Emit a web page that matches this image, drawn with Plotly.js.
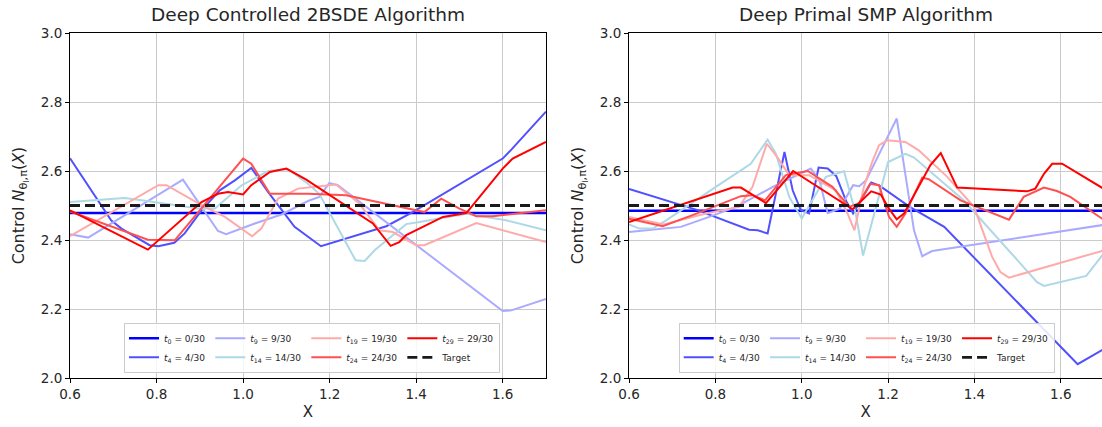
<!DOCTYPE html>
<html>
<head>
<meta charset="utf-8">
<script src="https://cdn.plot.ly/plotly-3.0.1.min.js"></script>
<style>
  html, body { margin: 0; padding: 0; background: #fff; }
  #chart { width: 1102px; height: 427px; }
</style>
</head>
<body>
<div id="chart"></div>
<script>
// ---- Deep Controlled 2BSDE: control value over X at several time steps ----
const bsde_t0_x  = [0.6, 1.7];
const bsde_t0_y  = [2.478, 2.478];
const bsde_t4_x  = [0.6, 0.695, 0.719, 0.784, 0.804, 0.841, 0.865, 0.904, 0.946, 0.981, 1.019, 1.058, 1.119, 1.150, 1.180, 1.331, 1.392, 1.600, 1.620, 1.7];
const bsde_t4_y  = [2.637, 2.457, 2.433, 2.385, 2.382, 2.392, 2.419, 2.486, 2.544, 2.573, 2.609, 2.539, 2.438, 2.409, 2.382, 2.440, 2.481, 2.636, 2.662, 2.772];
const bsde_t9_x  = [0.6, 0.642, 0.861, 0.942, 0.961, 1.027, 1.089, 1.150, 1.176, 1.199, 1.219, 1.400, 1.600, 1.620, 1.7];
const bsde_t9_y  = [2.417, 2.407, 2.575, 2.426, 2.417, 2.448, 2.474, 2.513, 2.525, 2.565, 2.559, 2.385, 2.194, 2.196, 2.229];
const bsde_t14_x = [0.6, 0.672, 0.726, 0.757, 0.850, 0.896, 0.935, 0.996, 1.058, 1.104, 1.150, 1.176, 1.260, 1.281, 1.304, 1.377, 1.408, 1.516, 1.608, 1.7];
const bsde_t14_y = [2.510, 2.518, 2.522, 2.517, 2.501, 2.491, 2.491, 2.558, 2.600, 2.605, 2.563, 2.534, 2.341, 2.339, 2.370, 2.446, 2.452, 2.476, 2.457, 2.428];
const bsde_t19_x = [0.6, 0.804, 0.823, 0.904, 0.958, 1.021, 1.042, 1.081, 1.127, 1.150, 1.215, 1.269, 1.315, 1.346, 1.400, 1.419, 1.539, 1.7];
const bsde_t19_y = [2.411, 2.559, 2.559, 2.501, 2.467, 2.411, 2.433, 2.520, 2.549, 2.552, 2.561, 2.505, 2.428, 2.423, 2.385, 2.385, 2.449, 2.394];
const bsde_t24_x = [0.6, 0.780, 0.842, 1.000, 1.019, 1.062, 1.150, 1.238, 1.346, 1.419, 1.458, 1.500, 1.539, 1.577, 1.7];
const bsde_t24_y = [2.483, 2.401, 2.399, 2.636, 2.621, 2.534, 2.534, 2.530, 2.501, 2.481, 2.520, 2.491, 2.469, 2.469, 2.486];
const bsde_t29_x = [0.6, 0.780, 0.904, 0.942, 0.965, 1.000, 1.019, 1.062, 1.100, 1.146, 1.300, 1.341, 1.361, 1.377, 1.462, 1.516, 1.600, 1.623, 1.7];
const bsde_t29_y = [2.486, 2.372, 2.510, 2.534, 2.539, 2.532, 2.559, 2.597, 2.607, 2.575, 2.448, 2.383, 2.394, 2.414, 2.467, 2.478, 2.607, 2.636, 2.684];

// ---- Deep Primal SMP ----
const smp_t0_x  = [0.6, 1.7];
const smp_t0_y  = [2.485, 2.485];
const smp_t4_x  = [0.6, 0.755, 0.878, 0.898, 0.921, 0.960, 0.979, 0.998, 1.017, 1.039, 1.060, 1.080, 1.103, 1.119, 1.161, 1.181, 1.250, 1.330, 1.639, 1.7];
const smp_t4_y  = [2.548, 2.488, 2.430, 2.428, 2.419, 2.655, 2.544, 2.486, 2.477, 2.610, 2.607, 2.585, 2.512, 2.477, 2.567, 2.557, 2.496, 2.438, 2.040, 2.084];
const smp_t9_x  = [0.6, 0.720, 0.786, 0.848, 0.933, 0.994, 1.021, 1.041, 1.060, 1.088, 1.119, 1.133, 1.149, 1.220, 1.260, 1.279, 1.302, 1.7];
const smp_t9_y  = [2.423, 2.438, 2.467, 2.496, 2.554, 2.592, 2.607, 2.573, 2.478, 2.491, 2.559, 2.556, 2.573, 2.752, 2.428, 2.353, 2.368, 2.444];
const smp_t14_x = [0.6, 0.624, 0.655, 0.686, 0.801, 0.882, 0.921, 0.940, 0.971, 1.000, 1.056, 1.098, 1.125, 1.142, 1.200, 1.240, 1.260, 1.375, 1.545, 1.561, 1.659, 1.7];
const smp_t14_y = [2.445, 2.433, 2.433, 2.457, 2.554, 2.621, 2.691, 2.650, 2.525, 2.462, 2.583, 2.599, 2.477, 2.355, 2.626, 2.650, 2.639, 2.515, 2.278, 2.267, 2.296, 2.362];
const smp_t19_x = [0.6, 0.680, 0.778, 0.855, 0.886, 0.919, 0.940, 0.971, 1.017, 1.079, 1.106, 1.122, 1.144, 1.163, 1.179, 1.198, 1.240, 1.271, 1.337, 1.399, 1.441, 1.460, 1.480, 1.7];
const smp_t19_y = [2.467, 2.445, 2.477, 2.496, 2.554, 2.679, 2.646, 2.588, 2.588, 2.544, 2.477, 2.428, 2.554, 2.626, 2.675, 2.689, 2.684, 2.660, 2.583, 2.496, 2.351, 2.307, 2.291, 2.370];
const smp_t24_x = [0.6, 0.678, 0.747, 0.859, 0.886, 0.915, 0.963, 1.014, 1.071, 1.110, 1.133, 1.158, 1.179, 1.202, 1.220, 1.240, 1.279, 1.294, 1.368, 1.480, 1.514, 1.561, 1.591, 1.622, 1.7];
const smp_t24_y = [2.462, 2.440, 2.472, 2.527, 2.530, 2.515, 2.588, 2.600, 2.554, 2.496, 2.507, 2.563, 2.559, 2.467, 2.438, 2.477, 2.581, 2.576, 2.515, 2.459, 2.525, 2.552, 2.542, 2.525, 2.458];
const smp_t29_x = [0.6, 0.840, 0.859, 0.917, 0.980, 1.118, 1.161, 1.183, 1.202, 1.220, 1.237, 1.298, 1.322, 1.360, 1.522, 1.541, 1.561, 1.580, 1.603, 1.7];
const smp_t29_y = [2.452, 2.552, 2.552, 2.507, 2.600, 2.489, 2.541, 2.532, 2.491, 2.460, 2.477, 2.617, 2.652, 2.552, 2.541, 2.549, 2.592, 2.621, 2.621, 2.548];

const targetX = [0.6, 1.7];
const targetY = [2.5, 2.5];

const stepLabels = ['<i>t</i><sub>0</sub> = 0/30', '<i>t</i><sub>4</sub> = 4/30', '<i>t</i><sub>9</sub> = 9/30',
                    '<i>t</i><sub>14</sub> = 14/30', '<i>t</i><sub>19</sub> = 19/30', '<i>t</i><sub>24</sub> = 24/30',
                    '<i>t</i><sub>29</sub> = 29/30'];
const stepColors = ['#0000ff', '#5050ff', '#aaaaff', '#add8e6', '#ffaaaa', '#ff5050', '#ff0000'];
const stepWidths = [2.5, 2, 2, 2, 2, 2, 2];
const legendCols = [1, 1, 2, 2, 3, 3, 4];

const bsdeSeries = [[bsde_t0_x, bsde_t0_y], [bsde_t4_x, bsde_t4_y], [bsde_t9_x, bsde_t9_y], [bsde_t14_x, bsde_t14_y],
                    [bsde_t19_x, bsde_t19_y], [bsde_t24_x, bsde_t24_y], [bsde_t29_x, bsde_t29_y]];
const smpSeries  = [[smp_t0_x, smp_t0_y], [smp_t4_x, smp_t4_y], [smp_t9_x, smp_t9_y], [smp_t14_x, smp_t14_y],
                    [smp_t19_x, smp_t19_y], [smp_t24_x, smp_t24_y], [smp_t29_x, smp_t29_y]];

function panelTraces(series, xa, ya, legendId, prefix) {
  const out = series.map((s, i) => ({
    x: s[0], y: s[1], type: 'scatter', mode: 'lines',
    xaxis: xa, yaxis: ya, legend: legendId,
    legendgroup: prefix + legendCols[i],
    name: stepLabels[i],
    line: { color: stepColors[i], width: stepWidths[i] },
    hoverinfo: 'skip'
  }));
  out.push({
    x: targetX, y: targetY, type: 'scatter', mode: 'lines',
    xaxis: xa, yaxis: ya, legend: legendId, legendgroup: prefix + 4,
    name: 'Target',
    line: { color: '#1a1a1a', width: 2.8, dash: '10px,5px' },
    hoverinfo: 'skip'
  });
  return out;
}

const data = panelTraces(bsdeSeries, 'x', 'y', 'legend', 'a')
  .concat(panelTraces(smpSeries, 'x2', 'y2', 'legend2', 'b'));

const textColor = '#262626';
const tickFont = { family: 'DejaVu Sans', size: 13.5, color: textColor };
const gridColor = '#cbcbcb';
const yTitle = 'Control <i>N</i><sub>θ<sub>l</sub>,π</sub>(<i>X</i>)';

function xAxis(domain, range) {
  return {
    domain: domain, range: range, tickvals: [0.6, 0.8, 1.0, 1.2, 1.4, 1.6], tickformat: '.1f',
    showgrid: true, gridcolor: gridColor, gridwidth: 1, zeroline: false,
    showline: true, linecolor: '#000', linewidth: 1, mirror: true,
    ticks: 'outside', ticklen: 4, tickcolor: '#000', tickfont: tickFont,
    title: { text: 'X', font: { family: 'DejaVu Sans', size: 15, color: textColor }, standoff: 5 },
    fixedrange: true
  };
}
function yAxis(anchor, mirror) {
  return {
    anchor: anchor, range: [2.0, 3.0], tickvals: [2.0, 2.2, 2.4, 2.6, 2.8, 3.0], tickformat: '.1f',
    showgrid: true, gridcolor: gridColor, gridwidth: 1, zeroline: false,
    showline: true, linecolor: '#000', linewidth: 1, mirror: mirror,
    ticks: 'outside', ticklen: 4, tickcolor: '#000', tickfont: tickFont,
    title: { text: yTitle, font: { family: 'DejaVu Sans', size: 16, color: textColor }, standoff: 12 },
    fixedrange: true
  };
}
function legendBox(xc) {
  return {
    orientation: 'h', traceorder: 'grouped', x: xc, xanchor: 'center', y: 0.015, yanchor: 'bottom',
    bgcolor: 'rgba(255,255,255,0.85)', bordercolor: '#cccccc', borderwidth: 1,
    font: { family: 'DejaVu Sans', size: 9, color: textColor },
    tracegroupgap: 2, itemwidth: 30
  };
}

const layout = {
  width: 1102, height: 427,
  margin: { l: 70, r: 0, t: 33, b: 49 },
  paper_bgcolor: '#ffffff', plot_bgcolor: '#ffffff',
  font: { family: 'DejaVu Sans', color: textColor },
  xaxis: xAxis([0, 0.4612], [0.6, 1.7]),
  yaxis: yAxis('x', true),
  xaxis2: xAxis([0.5417, 1], [0.6, 1.6954]),
  yaxis2: yAxis('x2', false),
  legend: legendBox(0.2345),
  legend2: legendBox(0.772),
  annotations: [
    { text: 'Deep Controlled 2BSDE Algorithm', xref: 'paper', yref: 'paper', x: 0.2306, y: 1, yshift: 6,
      xanchor: 'center', yanchor: 'bottom', showarrow: false, font: { family: 'DejaVu Sans', size: 18.5, color: textColor } },
    { text: 'Deep Primal SMP Algorithm', xref: 'paper', yref: 'paper', x: 0.7718, y: 1, yshift: 6,
      xanchor: 'center', yanchor: 'bottom', showarrow: false, font: { family: 'DejaVu Sans', size: 18.5, color: textColor } }
  ],
  showlegend: true
};

Plotly.newPlot('chart', data, layout, { staticPlot: true, displayModeBar: false });
</script>
</body>
</html>
